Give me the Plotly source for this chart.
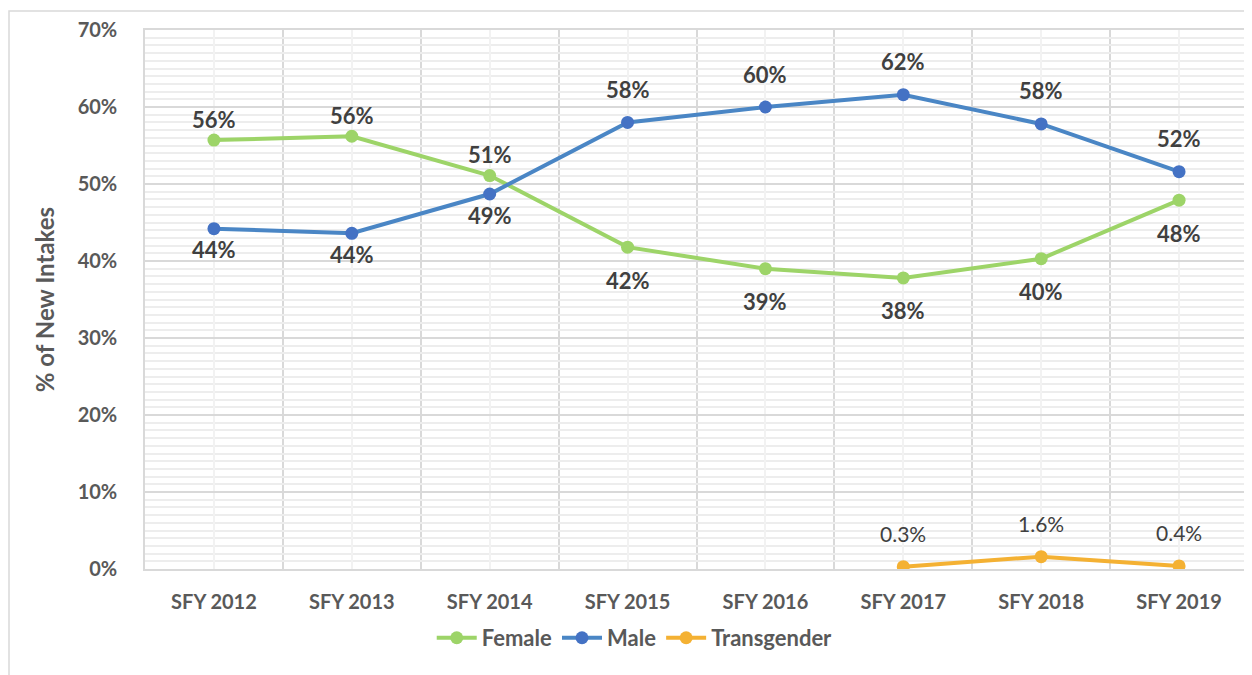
import plotly.graph_objects as go

years = ["SFY 2012", "SFY 2013", "SFY 2014", "SFY 2015", "SFY 2016", "SFY 2017", "SFY 2018", "SFY 2019"]
female = [0.557, 0.562, 0.511, 0.418, 0.390, 0.378, 0.403, 0.479]
male = [0.442, 0.436, 0.487, 0.580, 0.600, 0.616, 0.578, 0.516]
trans_years = ["SFY 2017", "SFY 2018", "SFY 2019"]
transgender = [0.003, 0.016, 0.004]

GREEN = "#9DD468"
BLUE = "#4A86C5"
BLUE_MK = "#4472C4"
ORANGE = "#F4B133"
TXT = "#595959"
LBL = "#404040"
FONT = "Lato"

xs = list(range(len(years)))
xs_t = [years.index(y) for y in trans_years]

fig = go.Figure()
fig.add_trace(go.Scatter(
    x=xs, y=female, name="Female", mode="lines+markers",
    line=dict(color=GREEN, width=4), marker=dict(color=GREEN, size=13),
))
fig.add_trace(go.Scatter(
    x=xs, y=male, name="Male", mode="lines+markers",
    line=dict(color=BLUE, width=4), marker=dict(color=BLUE_MK, size=13),
))
fig.add_trace(go.Scatter(
    x=xs_t, y=transgender, name="Transgender", mode="lines+markers",
    line=dict(color=ORANGE, width=4), marker=dict(color=ORANGE, size=13),
))

# data labels: female above / male below while female leads, then swapped
for i, (f, m) in enumerate(zip(female, male)):
    gap = 21 if i < 3 else 33
    f_up = f > m
    fig.add_annotation(x=i, y=f, text=f"{f:.0%}", showarrow=False,
                       yshift=gap if f_up else -gap,
                       font=dict(family=FONT, size=22, color=LBL, weight="bold"))
    fig.add_annotation(x=i, y=m, text=f"{m:.0%}", showarrow=False,
                       yshift=-gap if f_up else gap,
                       font=dict(family=FONT, size=22, color=LBL, weight="bold"))
for x, t in zip(xs_t, transgender):
    fig.add_annotation(x=x, y=t, text=f"{t:.1%}", showarrow=False, yshift=33,
                       font=dict(family=FONT, size=21, color=LBL))

# partly clipped chart title and outer chart frame
fig.add_annotation(xref="paper", yref="paper", x=0.446, y=1.0345, yanchor="bottom",
                   text="Gender Identity by Year", showarrow=False,
                   font=dict(family=FONT, size=27, color="#000000", weight="bold"))
fig.add_shape(type="rect", xref="paper", yref="paper", x0=-0.1233, x1=1.2, y0=-0.4, y1=1.0353,
              line=dict(color="#D9D9D9", width=1.5), layer="below")

# the page body adds an 8px offset, so the margins are trimmed by that much
fig.update_layout(
    width=1252, height=675,
    margin=dict(l=137, r=12, t=22, b=114, autoexpand=False),
    paper_bgcolor="white", plot_bgcolor="white",
    font=dict(family=FONT, color=TXT),
    showlegend=True,
    legend=dict(orientation="h", x=0.444, xanchor="center", y=-0.089, yanchor="top",
                font=dict(family=FONT, size=22, color=TXT, weight="bold"),
                itemwidth=40, tracegroupgap=0),
    xaxis=dict(
        range=[-0.5, 7.5], tickmode="array", tickvals=xs, ticktext=years,
        showgrid=True, gridcolor="#F2F2F2", gridwidth=2,
        minor=dict(tickmode="linear", tick0=-0.5, dtick=1, showgrid=True,
                   gridcolor="#D9D9D9", gridwidth=1.5),
        showline=True, linecolor="#D9D9D9", linewidth=1.5, mirror=True,
        zeroline=False, ticks="", ticklabelstandoff=14,
        tickfont=dict(family=FONT, size=20, color=TXT, weight="bold"),
    ),
    yaxis=dict(
        range=[0, 0.70], dtick=0.1, tickformat=".0%",
        showgrid=True, gridcolor="#D9D9D9", gridwidth=1.5,
        minor=dict(dtick=0.01, showgrid=True, gridcolor="#EDEDED", gridwidth=2),
        showline=True, linecolor="#D9D9D9", linewidth=1.5, mirror=True,
        zeroline=False, ticks="", ticklabelstandoff=22,
        title=dict(text="% of New Intakes", standoff=16,
                   font=dict(family=FONT, size=24, color=TXT, weight="bold")),
        tickfont=dict(family=FONT, size=20, color=TXT, weight="bold"),
    ),
)

fig.write_html("out.html")
